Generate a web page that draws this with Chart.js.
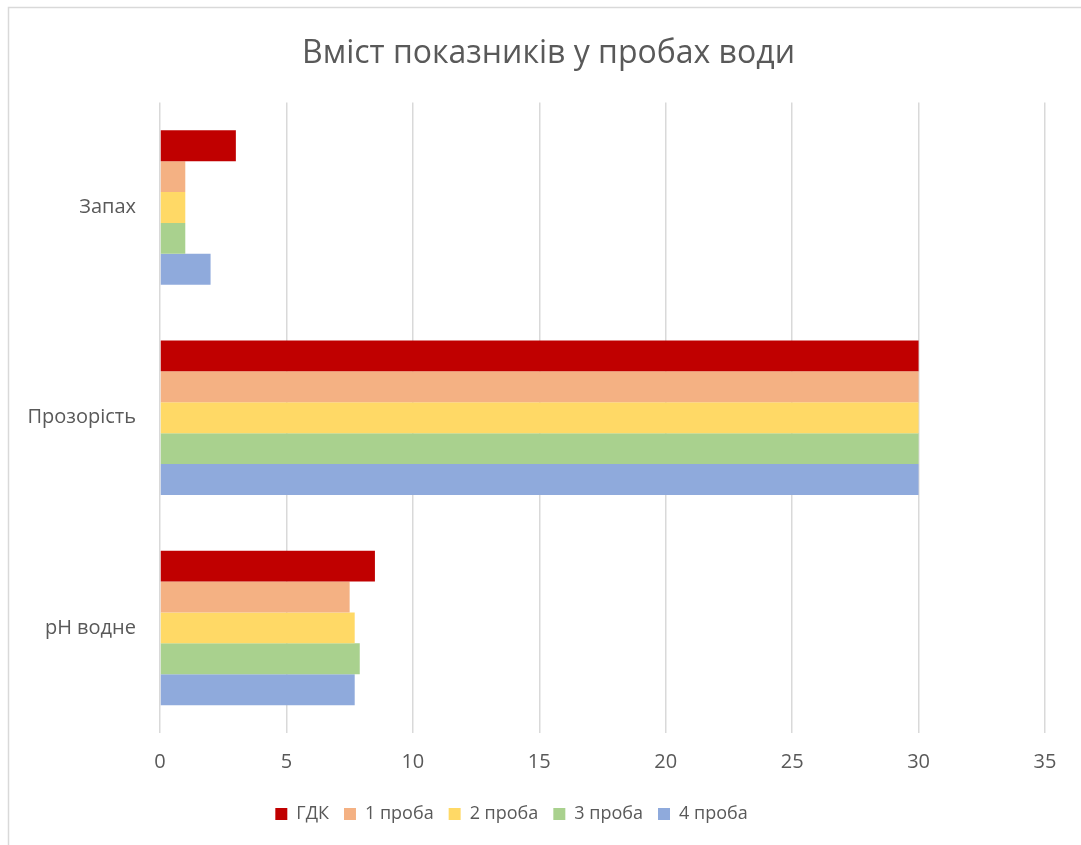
<!DOCTYPE html>
<html>
<head>
<meta charset="utf-8">
<script src="https://cdn.jsdelivr.net/npm/chart.js@4"></script>
<style>
html,body{margin:0;padding:0;background:#fff;}
#wrap{width:1081px;height:845px;position:relative;}
</style>
</head>
<body>
<div id="wrap"><canvas id="c" width="1081" height="845"></canvas></div>
<script>
const categories = ['Запах', 'Прозорість', 'pH водне'];
const seriesNames = ['ГДК', '1 проба', '2 проба', '3 проба', '4 проба'];
const gdk   = [3, 30, 8.5];
const proba1 = [1, 30, 7.5];
const proba2 = [1, 30, 7.7];
const proba3 = [1, 30, 7.9];
const proba4 = [2, 30, 7.7];
const xTicks = [0, 5, 10, 15, 20, 25, 30, 35];
const colors = ['#C00000', '#F4B183', '#FFD966', '#A9D18E', '#8FAADC'];
const seriesValues = [gdk, proba1, proba2, proba3, proba4];

const FONT = "'Open Sans', 'Noto Sans', sans-serif";
const TXT = '#595959';

const borderPlugin = {
  id: 'outerBorder',
  beforeDraw(chart) {
    const ctx = chart.ctx;
    ctx.save();
    ctx.fillStyle = '#fff';
    ctx.fillRect(0, 0, chart.width, chart.height);
    ctx.strokeStyle = '#d9d9d9';
    ctx.lineWidth = 1.5;
    ctx.beginPath();
    ctx.moveTo(8.5, chart.height);
    ctx.lineTo(8.5, 7.5);
    ctx.lineTo(chart.width, 7.5);
    ctx.stroke();
    ctx.restore();
  }
};

// shift title and legend horizontally to match the reference placement
const shiftPlugin = {
  id: 'shiftBoxes',
  afterLayout(chart) {
    if (chart.titleBlock) { chart.titleBlock.left += 22; chart.titleBlock.right += 22; }
    if (chart.legend) { chart.legend.left -= 15; chart.legend.right -= 15; }
  }
};

new Chart(document.getElementById('c'), {
  type: 'bar',
  data: {
    labels: categories,
    datasets: seriesNames.map((n, i) => ({
      label: n,
      data: seriesValues[i],
      backgroundColor: colors[i],
      borderWidth: 0,
      categoryPercentage: 0.735,
      barPercentage: 1.0
    }))
  },
  options: {
    indexAxis: 'y',
    responsive: false,
    animation: false,
    layout: { padding: { left: 8, right: 36, top: 0, bottom: 12 } },
    plugins: {
      title: {
        display: true,
        text: 'Вміст показників у пробах води',
        color: TXT,
        font: { family: FONT, size: 32, weight: 'normal' },
        padding: { top: 35, bottom: 29 }
      },
      legend: {
        position: 'bottom',
        labels: {
          color: TXT,
          font: { family: FONT, size: 18 },
          boxWidth: 12,
          boxHeight: 12,
          padding: 15
        }
      },
      tooltip: { enabled: false }
    },
    scales: {
      x: {
        min: 0, max: 35,
        afterBuildTicks(axis) { axis.ticks = xTicks.map(v => ({ value: v })); },
        afterFit(axis) { axis.height = 57; },
        grid: { color: '#d9d9d9', lineWidth: 1.5, drawTicks: false },
        border: { display: false },
        ticks: { color: TXT, font: { family: FONT, size: 20 }, padding: 17 }
      },
      y: {
        afterFit(axis) { axis.width = 152; },
        grid: { display: false },
        border: { display: false },
        ticks: { color: TXT, font: { family: FONT, size: 20 }, padding: 16 }
      }
    }
  },
  plugins: [borderPlugin, shiftPlugin]
});
</script>
</body>
</html>
